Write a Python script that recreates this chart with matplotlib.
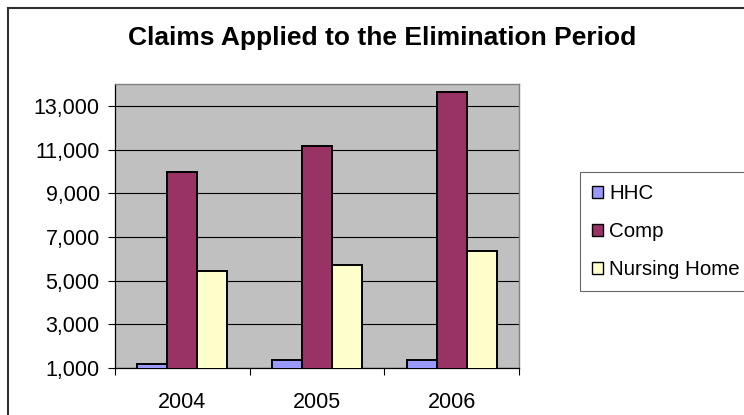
import matplotlib
matplotlib.use("Agg")
import matplotlib.pyplot as plt
from matplotlib.patches import Patch
from matplotlib.lines import Line2D
from matplotlib.ticker import StrMethodFormatter, FixedLocator
import numpy as np

# データ
years = ["2004", "2005", "2006"]
hhc = [1170, 1350, 1360]
comp = [9950, 11160, 13620]
nursing_home = [5450, 5730, 6370]

series_names = ["HHC", "Comp", "Nursing Home"]
series_colors = ["#9999FF", "#993366", "#FFFFCC"]
y_ticks = [1000, 3000, 5000, 7000, 9000, 11000, 13000]

plt.rcParams['font.family'] = ['Liberation Sans', 'DejaVu Sans']

W, H = 744, 415
fig = plt.figure(figsize=(W / 100, H / 100), dpi=100)
fig.patch.set_facecolor("white")

# プロット領域 (ピクセル座標から算出)
left, right, top, bottom = 115, 519, 84, 368
ax = fig.add_axes([left / W, 1 - bottom / H, (right - left) / W, (bottom - top) / H])
ax.set_facecolor("#C0C0C0")

x = np.arange(len(years))
bw = 0.222
for k, (vals, col) in enumerate(zip([hhc, comp, nursing_home], series_colors)):
    ax.bar(x + (k - 1) * bw, vals, width=bw, color=col, edgecolor="black",
           linewidth=1.4, zorder=3)

ax.set_ylim(1000, 14000)
ax.set_xlim(-0.5, 2.5)
ax.yaxis.set_major_locator(FixedLocator(y_ticks))
ax.yaxis.set_major_formatter(StrMethodFormatter("{x:,.0f}"))
ax.yaxis.grid(True, color="black", linewidth=0.8, zorder=1)
ax.set_axisbelow(True)

ax.set_xticks(x)
ax.set_xticklabels(years)
ax.set_xticks(np.arange(-0.5, 3, 1), minor=True)
ax.tick_params(axis="x", which="major", length=0, pad=17, labelsize=15.5)
ax.tick_params(axis="x", which="minor", length=5, width=0.8, direction="out")
ax.tick_params(axis="y", length=5, width=0.8, pad=6, labelsize=15.5)

for s in ["top", "right"]:
    ax.spines[s].set_color("#808080")
    ax.spines[s].set_linewidth(1.0)
for s in ["left", "bottom"]:
    ax.spines[s].set_color("black")
    ax.spines[s].set_linewidth(0.9)

# タイトル
fig.text(382 / W, 1 - 38 / H, "Claims Applied to the Elimination Period",
         ha="center", va="center", fontsize=19, fontweight="bold")

# 凡例
handles = [Patch(facecolor=c, edgecolor="black", linewidth=1.0) for c in series_colors]
leg = fig.legend(handles, series_names, loc="upper left",
                 bbox_to_anchor=(580 / W, 1 - 172 / H), bbox_transform=fig.transFigure,
                 fontsize=14.8, frameon=True, fancybox=False, handlelength=0.52,
                 handleheight=0.52, handletextpad=0.3, labelspacing=0.92,
                 borderpad=0.6, borderaxespad=0)
leg.get_frame().set_edgecolor("#404040")
leg.get_frame().set_linewidth(0.8)

# チャート外枠
fig.add_artist(Line2D([8 / W, 8 / W], [0, 1 - 8 / H], transform=fig.transFigure,
                      color="#303030", linewidth=1.5))
fig.add_artist(Line2D([8 / W, 1], [1 - 8 / H, 1 - 8 / H], transform=fig.transFigure,
                      color="#303030", linewidth=1.5))

fig.savefig("out.png", dpi=100)
